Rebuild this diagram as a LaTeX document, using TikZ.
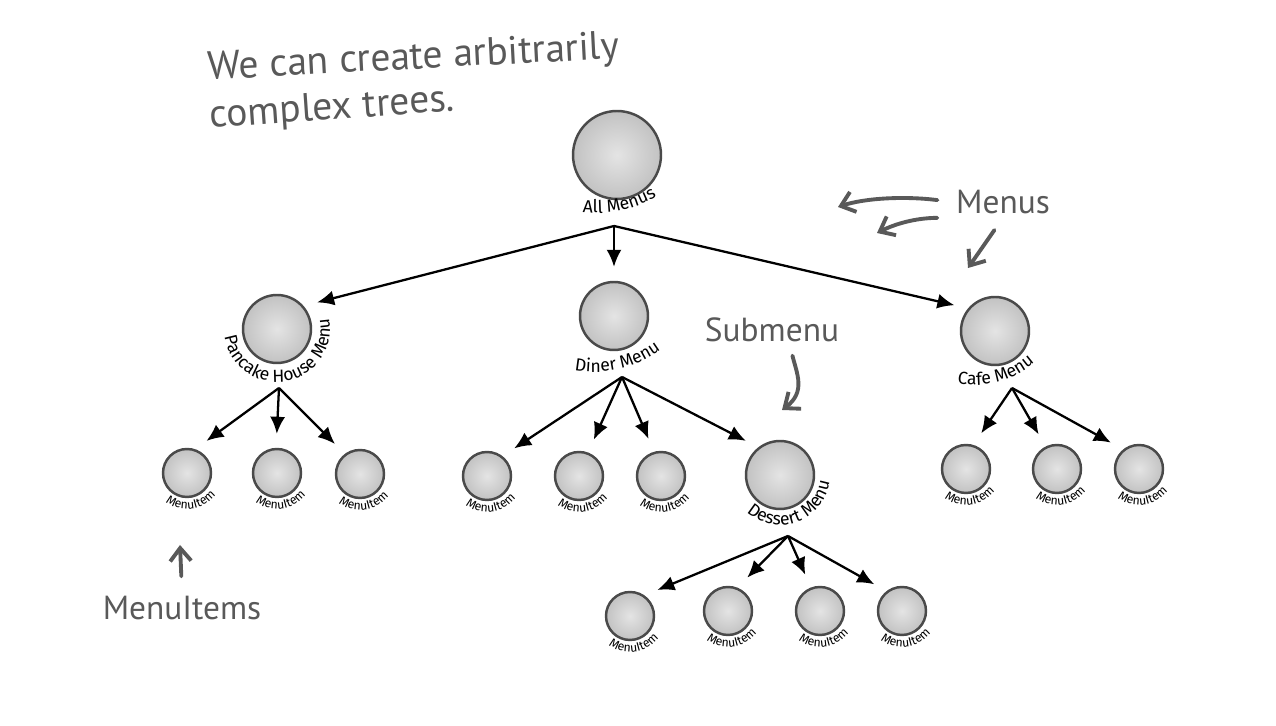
\documentclass[tikz,border=0pt]{standalone}
\usepackage{fontspec}
\usetikzlibrary{arrows.meta,decorations.text}
\newfontfamily\labelfamily{Fira Sans}
\newfontfamily\inkfamily{PT Sans}
\definecolor{ink}{HTML}{595959}
\definecolor{ballin}{HTML}{E4E4E4}
\definecolor{ballout}{HTML}{C2C2C2}
\definecolor{rim}{HTML}{4A4A4A}
\newcommand{\lblfont}{\labelfamily\fontsize{10}{11}\selectfont}
\newcommand{\itemfont}{\labelfamily\fontsize{7}{8}\selectfont}
% curved label under a ball: [font]{node}{shift of centre}{radius}{mid angle}{text}
\newcommand{\bowlabel}[6][\lblfont]{%
  \path[decorate, decoration={text along path, text align=center, text color=black, text={|#1|#6}}]
    (#2) ++(#3) ++(#5-100:#4) arc[start angle=#5-100, end angle=#5+100, radius=#4];}
\tikzset{
  ball/.style={circle, draw=rim, line width=1.4pt, inner sep=0pt, inner color=ballin, outer color=ballout},
  rootball/.style={ball, minimum size=1.76cm},
  menuball/.style={ball, minimum size=1.36cm},
  itemball/.style={ball, minimum size=0.96cm},
  link/.style={-{Latex[length=0.34cm,width=0.3cm]}, line width=1.3pt, shorten >=0.28cm},
  note/.style={text=ink, font=\inkfamily\fontsize{19}{22}\selectfont, inner sep=2pt},
  bignote/.style={note, font=\inkfamily\fontsize{22.5}{26}\selectfont},
  scrawl/.style={draw=ink, line width=2.2pt, line cap=round, -{Straight Barb[length=0.26cm,width=0.42cm]}}
}
\begin{document}
\begin{tikzpicture}[x=0.02cm,y=0.02cm]
        \useasboundingbox (0,0) rectangle (1276,726);
        \fill[white] (0,0) rectangle (1276,726);
        
        % the tree
        \node[rootball] (all) at (617,571) {};
        \node[menuball] (pancake) at (277,397) {};
        \node[menuball] (diner) at (614,410) {};
        \node[menuball] (cafe) at (995,395) {};
        \node[menuball] (dessert) at (780,251) {};
        
        \node[itemball] (p1) at (187,253) {};
        \node[itemball] (p2) at (277,253) {};
        \node[itemball] (p3) at (360,252) {};
        \node[itemball] (d1) at (487,250) {};
        \node[itemball] (d2) at (579,250) {};
        \node[itemball] (d3) at (661,250) {};
        \node[itemball] (c1) at (966,257) {};
        \node[itemball] (c2) at (1057,257) {};
        \node[itemball] (c3) at (1139,257) {};
        \node[itemball] (s1) at (630,110) {};
        \node[itemball] (s2) at (728,115) {};
        \node[itemball] (s3) at (820,115) {};
        \node[itemball] (s4) at (902,115) {};
        
        \bowlabel{all}{-21,62}{120}{282}{All Menus}
        \bowlabel{pancake}{0,0}{53}{280}{Pancake House Menu}
        \bowlabel{diner}{-19,54}{110}{283}{Diner Menu}
        \bowlabel{cafe}{-20,36}{90}{285}{Cafe Menu}
        \bowlabel{dessert}{0,0}{50}{290}{Dessert Menu}
        \foreach \n in {p1,p2,p3,d1,d2,d3,c1,c2,c3,s1,s2,s3,s4}
          \bowlabel[\itemfont]{\n}{0,0}{36}{278}{MenuItem};
        
        \coordinate (all-hub) at (614,500);
        \coordinate (pancake-hub) at (279,338);
        \coordinate (diner-hub) at (622,349);
        \coordinate (cafe-hub) at (1012,338);
        \coordinate (dessert-hub) at (788,190);
        
        \foreach \kid/\ang in {pancake/41, diner/90, cafe/140}
          \draw[link] (all-hub) -- (\kid.\ang);
        \foreach \kid/\ang in {p1/71, p2/92, p3/127}
          \draw[link] (pancake-hub) -- (\kid.\ang);
        \foreach \kid/\ang in {d1/52, d2/69, d3/106, dessert/128}
          \draw[link] (diner-hub) -- (\kid.\ang);
        \foreach \kid/\ang in {c1/73, c2/117, c3/129}
          \draw[link] (cafe-hub) -- (\kid.\ang);
        \foreach \kid/\ang in {s1/55, s2/68, s3/111, s4/128}
          \draw[link] (dessert-hub) -- (\kid.\ang);
        
        % handwritten notes
        \node[bignote, rotate=3, anchor=base west] (claim1) at (205,646) {We can create arbitrarily};
        \node[bignote, rotate=4, anchor=base west] (claim2) at (207,598) {complex trees.};
        \node[note] (menus) at (1003,524) {Menus};
        \node[note] (submenu) at (772,396) {Submenu};
        \node[note] (items) at (182,118) {MenuItems};
        
        \coordinate (menus-a) at (838,519);
        \coordinate (menus-b) at (877,493);
        \coordinate (menus-c) at (968,458);
        \coordinate (submenu-tip) at (782,316);
        \coordinate (items-tip) at (180,181);
        
        \draw[scrawl, shorten <=0.3cm] (menus.west) .. controls (905,530) and (865,528) .. (menus-a);
        \draw[scrawl, shorten <=0.3cm] (menus.south west) .. controls (915,508) and (895,502) .. (menus-b);
        \draw[scrawl, shorten <=0.3cm] (menus.south) -- (menus-c);
        \draw[scrawl, shorten <=0.2cm] ([xshift=0.36cm]submenu.south) .. controls (797,352) and (806,334) .. (submenu-tip);
        \draw[scrawl, shorten <=0.32cm] (items.north) -- (items-tip);
\end{tikzpicture}
\end{document}
